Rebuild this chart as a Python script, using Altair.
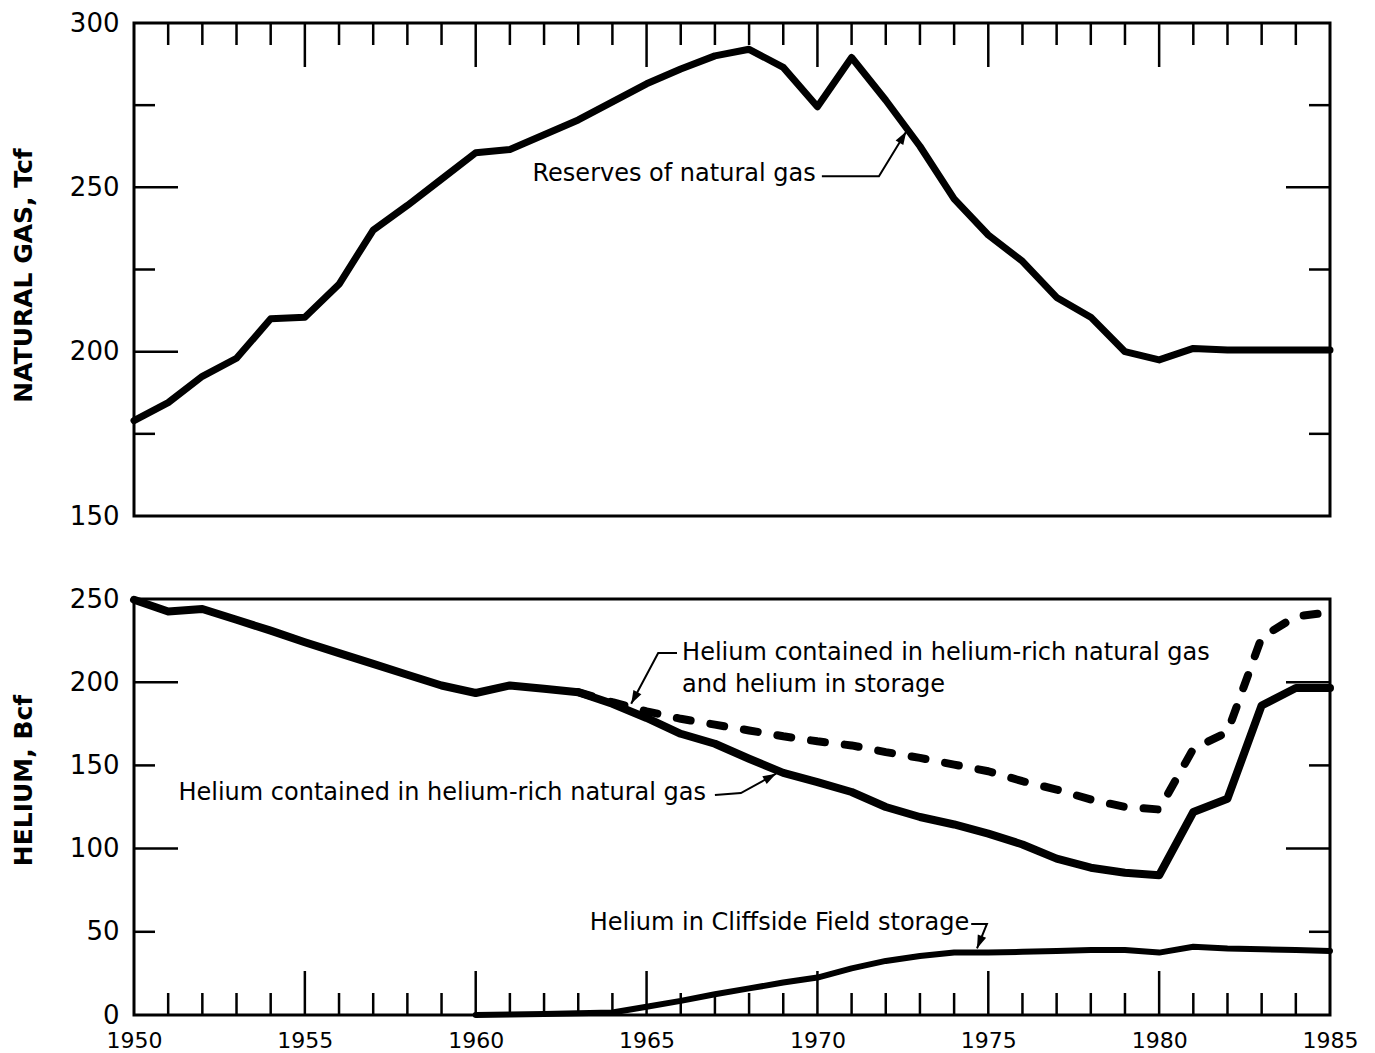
import altair as alt
import pandas as pd

# ---------------- data ----------------
years = list(range(1950, 1986))
gas_reserves = [179, 184.5, 192.5, 198, 210, 210.5, 220.5, 237, 244.5, 252.5,
                260.5, 261.5, 266, 270.5, 276, 281.5, 286, 290, 292, 286.5,
                274.5, 289.5, 276.5, 262.5, 246.5, 235.5, 227.5, 216.5, 210.5, 200,
                197.5, 201, 200.5, 200.5, 200.5, 200.5]

helium_rich = [249.5, 242.5, 244, 237.5, 231, 224, 217.5, 211, 204.5, 198,
               193.5, 198, 196, 194, 187, 178.5, 169, 163, 154, 145.5,
               140, 134, 125, 119, 114.5, 109, 102.5, 94, 88.5, 85.5,
               84, 122, 130, 186, 196.5, 196.5]

total_years = list(range(1963, 1986))
helium_total = [194, 188, 182.5, 178, 174.5, 171, 167.5, 164.5, 162, 158,
                154.5, 150.5, 146.5, 140.5, 135.5, 129.5, 125, 123.5, 160, 170,
                227, 239.5, 242]

cliff_years = list(range(1960, 1986))
cliffside = [0, 0.3, 0.6, 1, 1.5, 5, 8.5, 12.5, 16, 19.5, 22.5, 28, 32.5, 35.5,
             37.5, 37.5, 38, 38.5, 39, 39, 37.5, 41, 40, 39.5, 39, 38.5]

x_label_values = [1950, 1955, 1960, 1965, 1970, 1975, 1980, 1985]
top_y_labels = [150, 200, 250, 300]
bot_y_labels = [0, 50, 100, 150, 200, 250]

minor_years = [y for y in range(1951, 1985) if y % 5 != 0]
major_years = [1955, 1960, 1965, 1970, 1975, 1980]
top_major_vals = [200, 250]
top_minor_vals = [175, 225, 275]
bot_major_vals = [100, 200]
bot_minor_vals = [50, 150]

# annotations (anchor in data units)
top_text = ["Reserves of natural gas"]
top_text_year = [1969.95]
top_text_val = [254.0]
top_lead_year = [1970.13, 1971.8, 1972.6]
top_lead_val = [253.4, 253.4, 267.0]
top_arrow_angle = [31]

textA = ["Helium contained in helium-rich natural gas"]
textA_year = [1966.74]
textA_val = [133.4]
leadA_year = [1967.0, 1967.76, 1968.79]
leadA_val = [132.2, 133.4, 145.0]
arrowA_angle = [61]

textB = ["Helium contained in helium-rich natural gas", "and helium in storage"]
textB_year = [1966.04, 1966.04]
textB_val = [217.5, 198.3]
leadB_year = [1965.89, 1965.34, 1964.55]
leadB_val = [217.5, 217.5, 187.0]
arrowB_angle = [208]

textC = ["Helium in Cliffside Field storage"]
textC_year = [1974.44]
textC_val = [55.3]
leadC_year = [1974.5, 1974.96, 1974.67]
leadC_val = [54.7, 54.7, 40.0]
arrowC_angle = [202]

# ---------------- styling ----------------
FONT = "DejaVu Sans"
W = 1196
H_TOP = 493
H_BOT = 416
X_MAJ, X_MIN = 44, 22
Y_MAJ, Y_MIN = 44, 21
ARROW = "M0,0L0.34,1L-0.34,1Z"

x_scale = alt.Scale(domain=[1950, 1985], nice=False, zero=False)
yt_scale = alt.Scale(domain=[150, 300], nice=False, zero=False)
yb_scale = alt.Scale(domain=[0, 250], nice=False, zero=False)

axis_common = dict(ticks=False, tickSize=0, domain=False, grid=False,
                   labelFont=FONT, labelFontSize=26, labelColor="black",
                   labelPadding=15, titleFont=FONT, titleFontSize=25,
                   titleFontWeight="bold", titleColor="black", titleAngle=270,
                   titleAlign="center", titleBaseline="middle", titleX=-110.5)

yt_axis = alt.Axis(values=top_y_labels, title="NATURAL GAS, Tcf",
                   titleY=252, **axis_common)
yb_axis = alt.Axis(values=bot_y_labels, title="HELIUM, Bcf",
                   titleY=181, **axis_common)
xb_axis = alt.Axis(values=x_label_values, format="d", title=None, ticks=False,
                   tickSize=0, domain=False, grid=False, labelFont=FONT,
                   labelFontSize=22, labelColor="black", labelPadding=15,
                   labelFlush=False)


def X(axis=None):
    return alt.X("year:Q", scale=x_scale, axis=axis)


def YT():
    return alt.Y("value:Q", scale=yt_scale, axis=yt_axis)


def YB():
    return alt.Y("value:Q", scale=yb_scale, axis=yb_axis)


def df(yrs, vals, **extra):
    d = pd.DataFrame({"year": yrs, "value": vals})
    for k, v in extra.items():
        d[k] = v
    return d


def xticks(yrs, length, bottom, xaxis, H):
    d = pd.DataFrame({"year": yrs})
    if bottom:
        enc = dict(y=alt.value(H), y2=alt.value(H - length))
    else:
        enc = dict(y=alt.value(0), y2=alt.value(length))
    return alt.Chart(d).mark_rule(color="black", strokeWidth=2.5).encode(
        x=X(xaxis), **enc)


def yticks(vals, length, right, Y):
    d = pd.DataFrame({"value": vals})
    if right:
        enc = dict(x=alt.value(W), x2=alt.value(W - length))
    else:
        enc = dict(x=alt.value(0), x2=alt.value(length))
    return alt.Chart(d).mark_rule(color="black", strokeWidth=2.5).encode(
        y=Y(), **enc)


def text_layer(txt, yrs, vals, align, Y, xaxis=None):
    d = df(yrs, vals, label=txt)
    return alt.Chart(d).mark_text(font=FONT, fontSize=24, color="black",
                                  align=align, baseline="middle").encode(
        x=X(xaxis), y=Y(), text="label:N")


def leader(yrs, vals, Y, xaxis=None):
    d = df(yrs, vals, ord=list(range(len(yrs))))
    return alt.Chart(d).mark_line(color="black", strokeWidth=2).encode(
        x=X(xaxis), y=Y(), order="ord:Q")


def arrowhead(yrs, vals, ang, Y, xaxis=None):
    d = df(yrs[-1:], vals[-1:], ang=ang)
    return alt.Chart(d).mark_point(shape=ARROW, filled=True, size=700,
                                   color="black", opacity=1,
                                   strokeWidth=0).encode(
        x=X(xaxis), y=Y(), angle=alt.Angle("ang:Q", scale=None))


# ---------------- top panel ----------------
top_layers = [
    alt.Chart(df(years, gas_reserves)).mark_line(
        color="black", strokeWidth=7, strokeJoin="round", strokeCap="round"
    ).encode(x=X(), y=YT()),
    xticks(minor_years, X_MIN, False, None, H_TOP),
    xticks(major_years, X_MAJ, False, None, H_TOP),
    yticks(top_major_vals, Y_MAJ, False, YT),
    yticks(top_minor_vals, Y_MIN, False, YT),
    yticks(top_major_vals, Y_MAJ, True, YT),
    yticks(top_minor_vals, Y_MIN, True, YT),
    text_layer(top_text, top_text_year, top_text_val, "right", YT),
    leader(top_lead_year, top_lead_val, YT),
    arrowhead(top_lead_year, top_lead_val, top_arrow_angle, YT),
]
top = alt.layer(*top_layers).properties(width=W, height=H_TOP)

# ---------------- bottom panel ----------------
bot_layers = [
    alt.Chart(df(cliff_years, cliffside)).mark_line(
        color="black", strokeWidth=6, strokeJoin="round", strokeCap="round"
    ).encode(x=X(xb_axis), y=YB()),
    alt.Chart(df(total_years, helium_total)).mark_line(
        color="black", strokeWidth=8, strokeJoin="round", strokeCap="round",
        strokeDash=[14, 20]
    ).encode(x=X(xb_axis), y=YB()),
    alt.Chart(df(years, helium_rich)).mark_line(
        color="black", strokeWidth=8, strokeJoin="round", strokeCap="round"
    ).encode(x=X(xb_axis), y=YB()),
    xticks(minor_years, X_MIN, True, xb_axis, H_BOT),
    xticks(major_years, X_MAJ, True, xb_axis, H_BOT),
    yticks(bot_major_vals, Y_MAJ, False, YB),
    yticks(bot_minor_vals, Y_MIN, False, YB),
    yticks(bot_major_vals, Y_MAJ, True, YB),
    yticks(bot_minor_vals, Y_MIN, True, YB),
    text_layer(textA, textA_year, textA_val, "right", YB, xb_axis),
    leader(leadA_year, leadA_val, YB, xb_axis),
    arrowhead(leadA_year, leadA_val, arrowA_angle, YB, xb_axis),
    text_layer(textB, textB_year, textB_val, "left", YB, xb_axis),
    leader(leadB_year, leadB_val, YB, xb_axis),
    arrowhead(leadB_year, leadB_val, arrowB_angle, YB, xb_axis),
    text_layer(textC, textC_year, textC_val, "right", YB, xb_axis),
    leader(leadC_year, leadC_val, YB, xb_axis),
    arrowhead(leadC_year, leadC_val, arrowC_angle, YB, xb_axis),
]
bottom = alt.layer(*bot_layers).properties(width=W, height=H_BOT)

chart = alt.vconcat(top, bottom, spacing=53).properties(
    padding={"left": 2, "top": 0, "right": 5, "bottom": 0},
    background="white",
).configure_view(stroke="black", strokeWidth=3)

chart.save("out.html", embed_options={"renderer": "svg", "actions": False})
